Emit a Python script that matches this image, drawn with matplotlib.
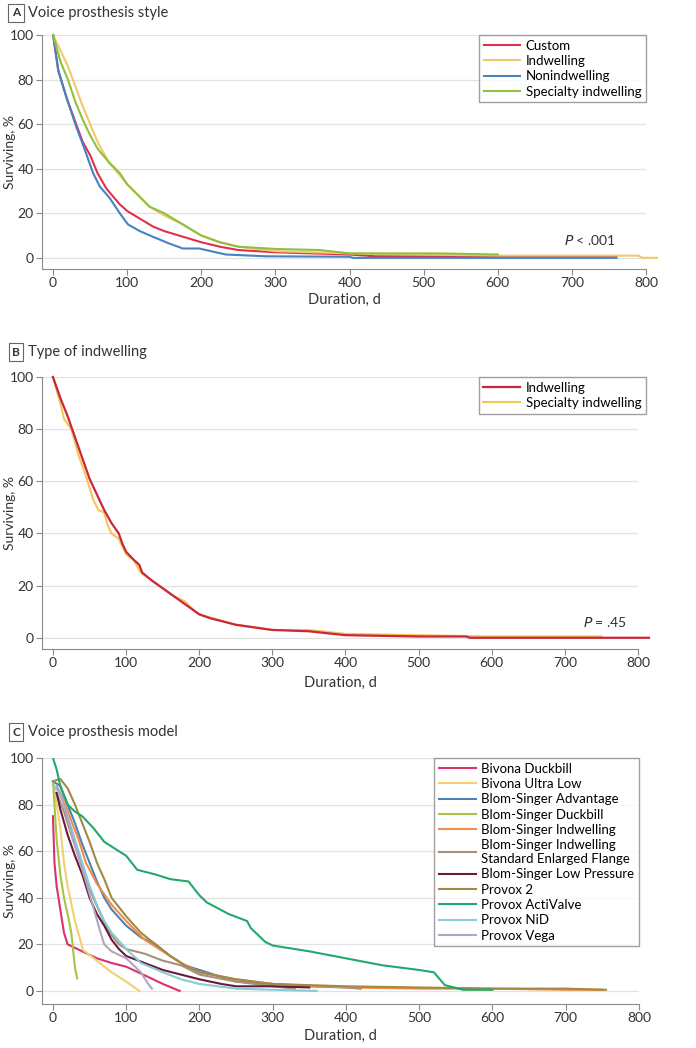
import matplotlib
matplotlib.use("Agg")
import matplotlib.pyplot as plt
import numpy as np

plt.rcParams['font.family'] = ['Lato', 'DejaVu Sans']

# ---- Panel A: voice prosthesis style ----
a_custom_t = [0, 7, 18, 31, 40, 50, 60, 72, 90, 100, 120, 135, 150, 170, 200, 225, 250, 300, 400, 435, 760]
a_custom_s = [100, 84, 72, 60, 52, 46, 38, 31, 24, 21, 17, 14, 12, 10, 7, 5, 3.5, 2.5, 1.5, 0.7, 0.5]
a_indw_t = [0, 10, 20, 30, 40, 50, 60, 75, 90, 100, 115, 130, 150, 175, 200, 225, 250, 300, 350, 400, 500, 600, 700, 790, 795, 815]
a_indw_s = [100, 93, 86, 77, 68, 60, 52, 43, 37, 33, 28, 23, 19, 15, 10, 7, 5, 3, 2.5, 2, 1.5, 1, 1, 1, 0, 0]
a_non_t = [0, 7, 18, 31, 40, 54, 63, 76, 90, 101, 117, 135, 157, 175, 197, 233, 287, 400, 405, 760]
a_non_s = [100, 84, 72, 59, 51, 38, 32, 27, 20, 15, 12, 9.4, 6.4, 4.2, 4.2, 1.5, 0.7, 0.5, 0, 0]
a_spec_t = [0, 10, 20, 30, 40, 50, 60, 75, 90, 100, 115, 130, 150, 175, 200, 225, 250, 300, 360, 400, 520, 600]
a_spec_s = [100, 88, 80, 70, 62, 55, 49, 43, 38, 33, 28, 23, 20, 15, 10, 7, 5, 4, 3.5, 2, 2, 1.5]

# ---- Panel B: type of indwelling ----
b_indw_t = [0, 10, 20, 30, 40, 50, 60, 70, 80, 90, 95, 100, 110, 118, 122, 135, 150, 165, 180, 190, 200, 215, 250, 275, 300, 350, 400, 500, 565, 570, 815]
b_indw_s = [100, 92, 85, 77, 69, 61, 55, 49, 44, 40, 36, 33, 30, 28, 25, 22, 19, 16, 13, 11, 9, 7.5, 5, 4, 3, 2.5, 1, 0.5, 0.5, 0, 0]
b_spec_t = [0, 10, 15, 25, 35, 45, 55, 62, 70, 75, 80, 90, 100, 110, 120, 135, 150, 165, 180, 195, 200, 250, 300, 350, 400, 500, 600, 750]
b_spec_s = [100, 90, 84, 80, 70, 62, 53, 49, 48, 43, 40, 38, 32, 30, 25, 22, 19, 16, 14, 10, 9, 5, 3, 3, 1.5, 1, 0.5, 0.5]

# ---- Panel C: voice prosthesis model ----
c_names = ["Bivona Duckbill", "Bivona Ultra Low", "Blom-Singer Advantage", "Blom-Singer Duckbill",
           "Blom-Singer Indwelling", "Blom-Singer Indwelling\nStandard Enlarged Flange",
           "Blom-Singer Low Pressure", "Provox 2", "Provox ActiValve", "Provox NiD", "Provox Vega"]
c_times = [
    [0, 2, 5, 10, 15, 20, 40, 60, 80, 100, 130, 150, 173],
    [0, 5, 10, 15, 20, 30, 41, 60, 80, 100, 118],
    [0, 10, 20, 30, 40, 50, 60, 70, 80, 100, 120, 140, 160, 180, 200, 220, 250, 300, 350, 400, 420],
    [0, 5, 10, 15, 20, 25, 30, 33],
    [5, 15, 25, 35, 45, 60, 80, 100, 125, 150, 175, 200, 250, 300, 400, 500, 600, 700, 750],
    [5, 15, 25, 35, 45, 55, 65, 75, 90, 100, 125, 150, 175, 200, 250, 300, 330],
    [5, 10, 20, 30, 40, 50, 60, 70, 80, 90, 100, 125, 150, 175, 200, 230, 250, 300, 350],
    [0, 10, 20, 30, 40, 50, 60, 70, 80, 100, 120, 140, 160, 180, 200, 250, 300, 400, 500, 600, 700, 755],
    [0, 5, 10, 20, 30, 40, 55, 70, 80, 100, 115, 140, 160, 185, 200, 210, 240, 265, 270, 290, 300, 350, 400, 450, 500, 520, 535, 560, 600],
    [0, 10, 20, 30, 40, 50, 60, 70, 80, 100, 120, 150, 175, 200, 250, 300, 360],
    [5, 15, 25, 35, 45, 55, 65, 70, 80, 100, 120, 130, 135],
]
c_surv = [
    [75, 55, 45, 35, 25, 20, 17, 14, 12, 10.4, 6, 3, 0],
    [90, 80, 70, 55, 45, 30, 17.6, 13, 8, 4, 0],
    [90, 88, 80, 72, 63, 55, 47, 40, 35, 28, 23, 20, 15, 11, 9, 7, 4, 3, 2, 1.5, 1],
    [90, 65, 50, 40, 33, 25, 10, 5.4],
    [88, 82, 73, 65, 55, 46, 37, 30, 22, 17, 12, 8, 5, 3, 1.5, 1, 1, 0.5, 0.5],
    [85, 77, 67, 58, 48, 40, 33, 26, 20, 18, 16, 13, 11, 7, 4, 2, 1],
    [85, 78, 67, 58, 50, 40, 33, 28, 22, 18, 15, 12, 9, 7, 5, 3, 2, 2, 1.5],
    [90, 91, 87, 80, 72, 64, 55, 48, 40, 32, 25, 20, 15, 11, 8, 5, 3, 2, 1.5, 1, 1, 0.5],
    [100, 95, 88, 80, 77, 75, 70, 64, 62, 58, 52, 50, 48, 47, 41, 38, 33, 30, 27, 21, 19.5, 17, 14, 11, 9, 8, 2.5, 0.5, 0.5],
    [88, 85, 75, 65, 55, 45, 37, 30, 25, 18, 12, 8, 5, 3, 1, 0.5, 0],
    [88, 80, 68, 57, 47, 36, 25, 20, 17, 14, 8, 3, 1],
]
c_colors = ["#d8336a", "#f0d070", "#4f80b8", "#a8c444", "#f08c44", "#a89080",
            "#6a1a3a", "#a08a44", "#22a86c", "#86ccd4", "#b4a4c4"]

W, H = 696, 1048
fig = plt.figure(figsize=(W / 100, H / 100), dpi=100)


def make_axes(left, right, top, bottom):
    return fig.add_axes([left / W, 1 - bottom / H, (right - left) / W, (bottom - top) / H])


def style(ax, ymin, left, right, top, bottom, xlab_y):
    ax.set_xlim(-15, 800)
    ax.set_ylim(ymin, 100)
    ax.set_xticks(range(0, 801, 100))
    ax.set_yticks(range(0, 101, 20))
    for s in ["top", "right"]:
        ax.spines[s].set_visible(False)
    for s in ["left", "bottom"]:
        ax.spines[s].set_color("#8a8a8a")
    ax.grid(axis="y", color="#e2e2e2", lw=0.9)
    ax.set_axisbelow(True)
    ax.tick_params(direction="out", length=4, color="#8a8a8a", labelsize=10, labelcolor="#333333", pad=2)
    ax.set_ylabel("Surviving, %", fontsize=10, color="#333333")
    ax.yaxis.set_label_coords((16 - left) / (right - left), 0.5)
    ax.set_xlabel("Duration, d", fontsize=10.5, color="#333333")
    ax.xaxis.set_label_coords(0.5, -(xlab_y - 7 - bottom) / (bottom - top))


def title(y, letter, text):
    fig.text(16 / W, 1 - y / H, letter, fontsize=8.5, fontweight="bold", ha="center", va="center",
             color="#333333", bbox=dict(boxstyle="square,pad=0.3", fc="white", ec="#666666", lw=0.8))
    fig.text(28 / W, 1 - y / H, text, fontsize=10.5, ha="left", va="center", color="#333333")


leg_kw = dict(loc="upper right", fontsize=9.5, frameon=True, fancybox=False, edgecolor="#888888",
              handlelength=2.8, borderpad=0.35, labelspacing=0.25, handletextpad=0.4, borderaxespad=0)

# Panel A
axA = make_axes(42, 646, 35, 269)
style(axA, -5, 42, 646, 35, 269, 300)
for t, s, c, lab in [(a_custom_t, a_custom_s, "#e0304a", "Custom"),
                     (a_indw_t, a_indw_s, "#f2c86a", "Indwelling"),
                     (a_non_t, a_non_s, "#4682c4", "Nonindwelling"),
                     (a_spec_t, a_spec_s, "#90c040", "Specialty indwelling")]:
    axA.plot(t, s, color=c, lw=1.5, label=lab, clip_on=False)
axA.legend(bbox_to_anchor=(1.0, 1.0), **leg_kw)
axA.text(725, 8, "$P$ < .001", fontsize=10, ha="center", va="center", color="#333333")
title(13, "A", "Voice prosthesis style")

# Panel B
axB = make_axes(42, 638, 377, 649)
style(axB, -4.3, 42, 638, 377, 649, 683)
axB.plot(b_spec_t, b_spec_s, color="#f5c55a", lw=1.5, label="Specialty indwelling", clip_on=False)
axB.plot(b_indw_t, b_indw_s, color="#c8283a", lw=1.6, label="Indwelling", clip_on=False)
h, l = axB.get_legend_handles_labels()
axB.legend(h[::-1], l[::-1], bbox_to_anchor=(1.013, 1.0), **leg_kw)
axB.text(755, 6, "$P$ = .45", fontsize=10, ha="center", va="center", color="#333333")
title(352, "B", "Type of indwelling")

# Panel C
axC = make_axes(42, 639, 758, 1004)
style(axC, -5.6, 42, 639, 758, 1004, 1036)
for t, s, c, lab in zip(c_times, c_surv, c_colors, c_names):
    axC.plot(t, s, color=c, lw=1.5, label=lab)
axC.legend(bbox_to_anchor=(1.0, 1.0), **leg_kw)
title(732, "C", "Voice prosthesis model")

fig.savefig("out.png", dpi=100)
